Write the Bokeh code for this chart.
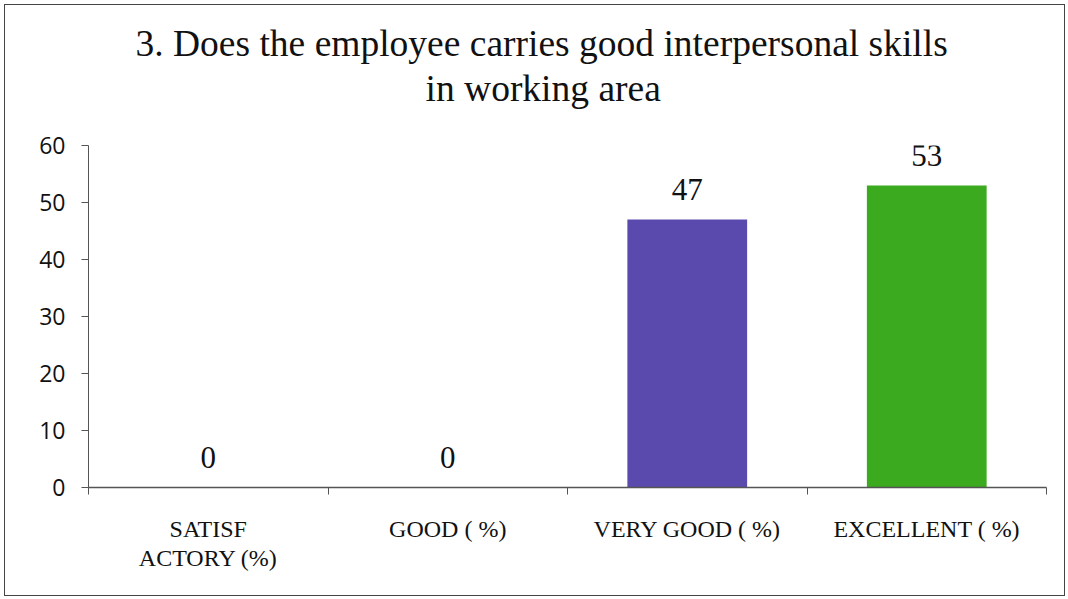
from bokeh.plotting import figure
from bokeh.models import Range1d, FixedTicker, ColumnDataSource, Title
from bokeh.core.properties import value
from bokeh.embed import file_html
from bokeh.resources import INLINE

categories = ["SATISF\nACTORY (%)", "GOOD ( %)", "VERY GOOD ( %)", "EXCELLENT ( %)"]
values = [0, 0, 47, 53]
bar_colors = ["#5A4AAE", "#5A4AAE", "#5A4AAE", "#3BAA1F"]
y_ticks = [0, 10, 20, 30, 40, 50, 60]
title_lines = ["3. Does the employee carries good interpersonal skills", "in working area"]

centers = [i + 0.5 for i in range(len(categories))]
src = ColumnDataSource(dict(x=centers, top=values, color=bar_colors,
                            label=[str(v) for v in values]))

p = figure(width=1061, height=592, output_backend="svg", toolbar_location=None,
           title=None,
           x_range=Range1d(0, len(categories)), y_range=Range1d(0, 60),
           min_border_left=83, min_border_right=20, min_border_top=140, min_border_bottom=110,
           styles={"border": "1px solid #444", "margin-left": "4px", "margin-top": "4px"})

p.vbar(x="x", top="top", width=0.5, color="color", source=src, line_color=None)
p.text(x="x", y="top", text="label", source=src, text_align="center",
       text_baseline="alphabetic", y_offset=-30, text_font=value("Liberation Serif"),
       text_font_size="31px", text_color="#111111")

title_offsets = [47, 337]
title_standoffs = [-70, 74]
for line, off, so in reversed(list(zip(title_lines, title_offsets, title_standoffs))):
    t = Title(text=line, align="left", offset=off, standoff=so,
              text_font="Liberation Serif", text_font_size="37.5px",
              text_font_style="normal", text_color="#111111")
    p.add_layout(t, "above")

p.xgrid.grid_line_color = None
p.ygrid.grid_line_color = None
p.outline_line_color = None
p.background_fill_color = "white"
p.border_fill_color = "white"

ya = p.yaxis[0]
ya.ticker = FixedTicker(ticks=y_ticks)
ya.major_tick_out = 7
ya.major_tick_in = 0
ya.minor_tick_line_color = None
ya.axis_line_color = "#555555"
ya.major_tick_line_color = "#555555"
ya.major_label_text_font = "Open Sans"
ya.major_label_text_font_size = "23px"
ya.major_label_text_color = "#111111"
ya.major_label_standoff = 16

xa = p.xaxis[0]
xa.ticker = FixedTicker(ticks=centers, minor_ticks=list(range(len(categories) + 1)))
xa.major_label_overrides = {c: lab for c, lab in zip(centers, categories)}
xa.major_tick_line_color = None
xa.major_tick_out = 0
xa.major_tick_in = 0
xa.minor_tick_out = 7
xa.minor_tick_in = 0
xa.minor_tick_line_color = "#555555"
xa.axis_line_color = "#555555"
xa.axis_line_width = 1.5
xa.major_label_text_font = "Liberation Serif"
xa.major_label_text_font_size = "24px"
xa.major_label_text_color = "#111111"
xa.major_label_standoff = 21
xa.major_label_text_line_height = 1.15

open("out.html", "w").write(file_html(p, INLINE))
